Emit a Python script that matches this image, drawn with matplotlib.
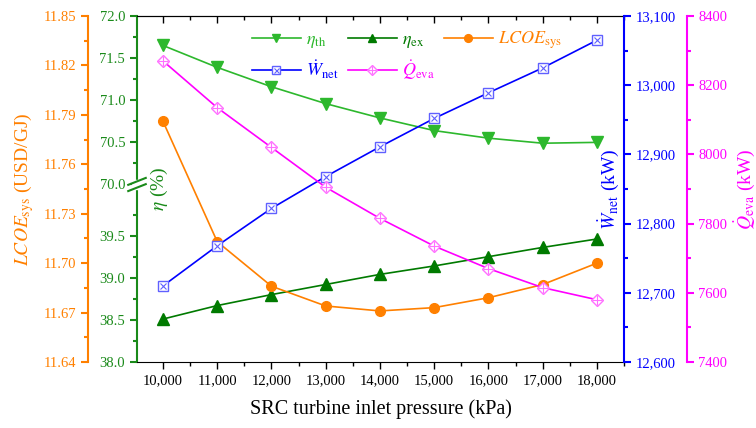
import matplotlib
matplotlib.use("Agg")
import matplotlib.pyplot as plt
import numpy as np
from matplotlib.ticker import FixedLocator, MultipleLocator, FuncFormatter, FormatStrFormatter
from matplotlib.legend_handler import HandlerTuple

plt.rcParams['font.family'] = ['Liberation Serif', 'DejaVu Serif']
plt.rcParams['mathtext.fontset'] = 'stix'

# data
pressure = [10000, 11000, 12000, 13000, 14000, 15000, 16000, 17000, 18000]
eta_th = [71.65, 71.39, 71.16, 70.96, 70.79, 70.64, 70.55, 70.49, 70.50]
eta_ex = [38.51, 38.67, 38.80, 38.92, 39.04, 39.14, 39.25, 39.36, 39.46]
lcoe = [11.786, 11.713, 11.686, 11.674, 11.671, 11.673, 11.679, 11.687, 11.700]
w_net = [12710, 12768, 12822, 12868, 12911, 12952, 12989, 13025, 13065]
q_eva = [8270, 8135, 8020, 7905, 7815, 7735, 7670, 7615, 7580]

eta_major = [38.0, 38.5, 39.0, 39.5, 70.0, 70.5, 71.0, 71.5, 72.0]
eta_minor = [38.25, 38.75, 39.25, 39.75, 70.25, 70.75, 71.25, 71.75]

c_th = '#2db82d'
c_ex = '#007a00'
c_lc = '#ff8000'
c_w = '#0000ff'
c_q = '#ff00ff'
c_axis_g = '#1a8a1a'

# broken eta axis: 38..~40.1 below, 70..72 above
brk = 40.107
gap = 70.0 - brk


def fwd(v):
    v = np.asarray(v, dtype=float)
    return np.where(v >= 70.0, v - gap, np.minimum(v, brk))


def inv(y):
    y = np.asarray(y, dtype=float)
    return np.where(y > brk, y + gap, y)


fig = plt.figure(figsize=(7.56, 4.28), dpi=100)
ax = fig.add_axes([137 / 756, 66 / 428, 487 / 756, 346 / 428])
ax_l = ax.twinx()
ax_w = ax.twinx()
ax_q = ax.twinx()

ax.set_yscale('function', functions=(fwd, inv))
ax.set_ylim(38, 72)
ax.set_xlim(9520, 18500)

ms = 7
l_th, = ax.plot(pressure, eta_th, color=c_th, lw=1.2, marker='v', ms=ms + 1, mfc=c_th, mec=c_th)
l_ex, = ax.plot(pressure, eta_ex, color=c_ex, lw=1.2, marker='^', ms=ms + 1, mfc=c_ex, mec=c_ex)
l_lc, = ax_l.plot(pressure, lcoe, color=c_lc, lw=1.2, marker='o', ms=ms, mfc=c_lc, mec=c_lc)
l_w, = ax_w.plot(pressure, w_net, color=c_w, lw=1.2, marker='s', ms=ms - 0.5, mfc='white', mec='#6060ff', mew=1)
l_wx, = ax_w.plot(pressure, w_net, ls='none', marker='x', ms=ms - 2.5, mec='#6060ff', mew=0.8)
l_q, = ax_q.plot(pressure, q_eva, color=c_q, lw=1.2, marker='D', ms=ms - 0.5, mfc='white', mec='#ff70ff', mew=1)
l_qp, = ax_q.plot(pressure, q_eva, ls='none', marker='+', ms=ms, mec='#ff70ff', mew=0.8)

# eta axis
ax.yaxis.set_major_locator(FixedLocator(eta_major))
ax.yaxis.set_minor_locator(FixedLocator(eta_minor))
ax.yaxis.set_major_formatter(FormatStrFormatter('%.1f'))
ax.yaxis.set_minor_formatter(FuncFormatter(lambda v, p: ''))
ax.tick_params(axis='y', which='both', colors=c_axis_g, direction='out', right=False, labelsize=10.5, width=1.5)
ax.tick_params(axis='y', which='major', length=5)
ax.tick_params(axis='y', which='minor', length=3)
ax.set_ylabel(r'$\eta$ (%)', color=c_axis_g, fontsize=14)
ax.yaxis.set_label_coords(0.068, 0.5)

# x axis
ax.xaxis.set_major_locator(MultipleLocator(1000))
ax.xaxis.set_minor_locator(MultipleLocator(500))
ax.xaxis.set_major_formatter(FuncFormatter(lambda v, p: f'{v:,.0f}'))
ax.tick_params(axis='x', which='both', direction='out', top=False, labelsize=10.5, width=1)
ax.tick_params(axis='x', which='major', length=5)
ax.tick_params(axis='x', which='minor', length=3)
ax.set_xlabel('SRC turbine inlet pressure (kPa)', fontsize=14.5, labelpad=9)
top = ax.secondary_xaxis('top')
top.xaxis.set_major_locator(MultipleLocator(1000))
top.xaxis.set_minor_locator(MultipleLocator(500))
top.tick_params(axis='x', which='both', direction='in', labeltop=False, width=1)
top.tick_params(axis='x', which='major', length=5)
top.tick_params(axis='x', which='minor', length=3)

ax.spines['left'].set_color(c_axis_g)
ax.spines['left'].set_linewidth(1.5)
ax.spines['right'].set_visible(False)

# LCOE axis (left, outward)
for s in ['top', 'bottom', 'right']:
    ax_l.spines[s].set_visible(False)
ax_l.spines['left'].set_visible(True)
ax_l.spines['left'].set_position(('outward', 35))
ax_l.spines['left'].set_color(c_lc)
ax_l.spines['left'].set_linewidth(1.5)
ax_l.yaxis.set_ticks_position('left')
ax_l.yaxis.set_label_position('left')
ax_l.set_ylim(11.64, 11.85)
ax_l.yaxis.set_major_locator(MultipleLocator(0.03))
ax_l.yaxis.set_minor_locator(MultipleLocator(0.015))
ax_l.yaxis.set_major_formatter(FormatStrFormatter('%.2f'))
ax_l.tick_params(axis='y', which='both', colors=c_lc, labelsize=10.5, width=1.5)
ax_l.tick_params(axis='y', which='major', length=5)
ax_l.tick_params(axis='y', which='minor', length=3)
ax_l.set_ylabel(r'$\mathit{LCOE}_{\mathrm{sys}}$ (USD/GJ)', color=c_lc, fontsize=14)
ax_l.yaxis.set_label_coords(-0.208, 0.5)

# W_net axis (right)
for s in ['top', 'bottom', 'left']:
    ax_w.spines[s].set_visible(False)
ax_w.spines['right'].set_color(c_w)
ax_w.spines['right'].set_linewidth(1.5)
ax_w.set_ylim(12600, 13100)
ax_w.yaxis.set_major_locator(MultipleLocator(100))
ax_w.yaxis.set_minor_locator(MultipleLocator(50))
ax_w.yaxis.set_major_formatter(FuncFormatter(lambda v, p: f'{v:,.0f}'))
ax_w.tick_params(axis='y', which='both', colors=c_w, labelsize=10.5, width=1.5)
ax_w.tick_params(axis='y', which='major', length=5)
ax_w.tick_params(axis='y', which='minor', length=3)
ax_w.set_ylabel(r'$\dot{W}_{\mathrm{net}}$ (kW)', color=c_w, fontsize=14)
ax_w.yaxis.set_label_coords(0.943, 0.5)

# Q_eva axis (right, outward)
for s in ['top', 'bottom', 'left']:
    ax_q.spines[s].set_visible(False)
ax_q.spines['right'].set_position(('outward', 45))
ax_q.spines['right'].set_color(c_q)
ax_q.spines['right'].set_linewidth(1.5)
ax_q.set_ylim(7400, 8400)
ax_q.yaxis.set_major_locator(MultipleLocator(200))
ax_q.yaxis.set_minor_locator(MultipleLocator(100))
ax_q.tick_params(axis='y', which='both', colors=c_q, labelsize=10.5, width=1.5)
ax_q.tick_params(axis='y', which='major', length=5)
ax_q.tick_params(axis='y', which='minor', length=3)
ax_q.set_ylabel(r'$\dot{Q}_{\mathrm{eva}}$ (kW)', color=c_q, fontsize=14)
ax_q.yaxis.set_label_coords(1.222, 0.5)

# break marks on the eta spine
frac = (brk - 38.0) / (72.0 - gap - 38.0)
ax.add_patch(plt.Rectangle((-0.01, frac - 0.012), 0.02, 0.024, transform=ax.transAxes,
                           color='white', clip_on=False, zorder=5))
for dy in (-0.009, 0.009):
    ax.plot([-0.018, 0.018], [frac + dy - 0.01, frac + dy + 0.01], transform=ax.transAxes,
            color=c_axis_g, lw=1.5, clip_on=False, zorder=6)

handles = [l_th, (l_w, l_wx), l_ex, (l_q, l_qp), l_lc]
labels = [r'$\eta_{\mathrm{th}}$', r'$\dot{W}_{\mathrm{net}}$', r'$\eta_{\mathrm{ex}}$',
          r'$\dot{Q}_{\mathrm{eva}}$', r'$\mathit{LCOE}_{\mathrm{sys}}$']
leg = ax_q.legend(handles, labels, ncol=3, loc='upper left', bbox_to_anchor=(0.236, 0.96),
                  frameon=False, fontsize=13, handlelength=2.7, handletextpad=0.3,
                  columnspacing=0.5, labelspacing=0.45, borderpad=0, borderaxespad=0,
                  markerscale=0.8, handler_map={tuple: HandlerTuple(ndivide=1)})
for t, c in zip(leg.get_texts(), [c_th, c_w, c_ex, c_q, c_lc]):
    t.set_color(c)

fig.savefig('out.png', dpi=100)
